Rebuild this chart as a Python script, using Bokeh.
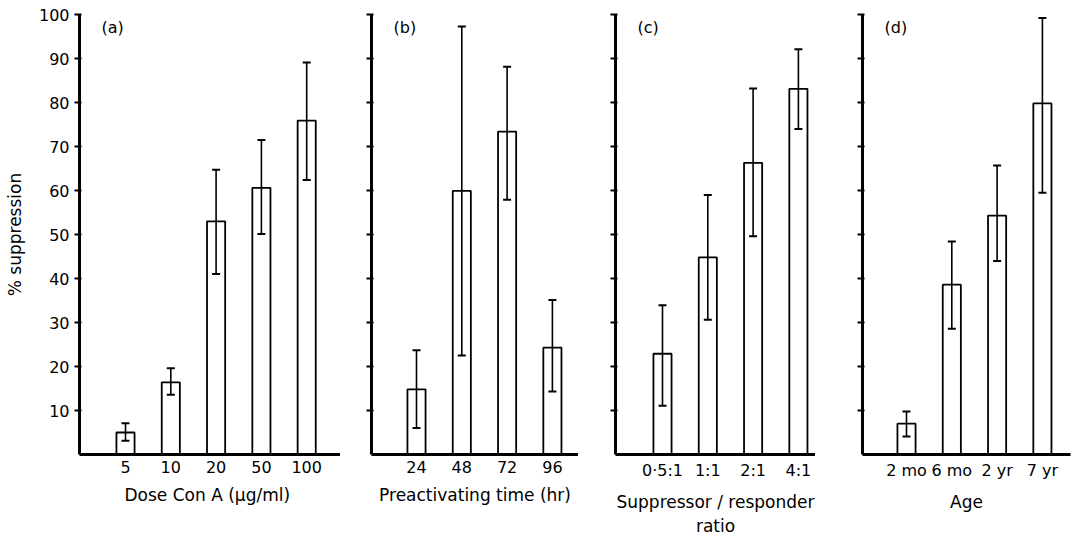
from bokeh.plotting import figure
from bokeh.layouts import row
from bokeh.models import Range1d, FixedTicker, Whisker, TeeHead, ColumnDataSource, Label
from bokeh.embed import file_html
from bokeh.resources import INLINE

# ---- data ----
dose_labels = ["5", "10", "20", "50", "100"]
dose_mean = [5.0, 16.4, 53.0, 60.6, 75.9]
dose_upper = [7.1, 19.6, 64.7, 71.5, 89.1]
dose_lower = [3.1, 13.6, 41.0, 50.1, 62.4]

time_labels = ["24", "48", "72", "96"]
time_mean = [14.8, 59.9, 73.4, 24.3]
time_upper = [23.7, 97.3, 88.1, 35.1]
time_lower = [6.0, 22.5, 57.9, 14.3]

ratio_labels = ["0·5:1", "1:1", "2:1", "4:1"]
ratio_mean = [22.9, 44.8, 66.3, 83.1]
ratio_upper = [33.9, 59.0, 83.2, 92.1]
ratio_lower = [11.1, 30.6, 49.6, 74.0]

age_labels = ["2 mo", "6 mo", "2 yr", "7 yr"]
age_mean = [7.0, 38.6, 54.3, 79.8]
age_upper = [9.8, 48.4, 65.7, 99.2]
age_lower = [4.1, 28.6, 44.0, 59.5]

y_ticks = [10, 20, 30, 40, 50, 60, 70, 80, 90, 100]

FONT = "DejaVu Sans"
STEP = 45.3  # px per category
HEIGHT = 538
TOP = 14
FRAME_H = 447


def panel(labels, mean, upper, lower, letter, xlabel, border_left, frame_w,
          first_offset, show_y, border_right=0):
    n = len(labels)
    x0 = -first_offset / STEP
    x1 = x0 + frame_w / STEP
    p = figure(width=border_left + frame_w + border_right, height=HEIGHT,
               x_range=Range1d(x0, x1), y_range=Range1d(0, 100),
               output_backend="svg", toolbar_location=None,
               min_border_left=border_left, min_border_right=border_right,
               min_border_top=TOP, min_border_bottom=HEIGHT - TOP - FRAME_H)
    p.outline_line_color = None
    p.grid.visible = False
    p.background_fill_color = "white"
    p.border_fill_color = "white"

    idx = list(range(n))
    src = ColumnDataSource(dict(x=idx, top=mean, upper=upper, lower=lower))
    p.vbar(x="x", top="top", bottom=0, width=0.4, source=src,
           fill_color="white", line_color="black", line_width=1.8)
    w = Whisker(base="x", upper="upper", lower="lower", source=src,
                line_color="black", line_width=1.6, level="overlay",
                upper_head=TeeHead(size=8, line_color="black", line_width=2),
                lower_head=TeeHead(size=8, line_color="black", line_width=2))
    p.add_layout(w)

    xa = p.xaxis[0]
    xa.ticker = FixedTicker(ticks=idx)
    xa.major_label_overrides = {i: lab for i, lab in enumerate(labels)}
    xa.major_tick_out = 0
    xa.major_tick_in = 0
    xa.minor_tick_out = 0
    xa.axis_line_width = 2.8
    xa.axis_line_color = "black"
    xa.major_label_text_font = FONT
    xa.major_label_text_font_size = "16px"
    xa.major_label_text_color = "black"
    xa.major_label_standoff = 6
    xa.axis_label = xlabel
    xa.axis_label_text_font = FONT
    xa.axis_label_text_font_size = "17px"
    xa.axis_label_text_font_style = "normal"
    xa.axis_label_text_color = "black"
    xa.axis_label_standoff = 9

    ya = p.yaxis[0]
    ya.ticker = FixedTicker(ticks=y_ticks)
    ya.major_tick_out = 5
    ya.major_tick_in = 2
    ya.minor_tick_out = 0
    ya.major_tick_line_width = 2
    ya.major_tick_line_color = "black"
    ya.axis_line_width = 3
    ya.axis_line_color = "black"
    if show_y:
        ya.major_label_text_font = FONT
        ya.major_label_text_font_size = "16px"
        ya.major_label_text_color = "black"
        ya.major_label_standoff = 5
        ya.axis_label = "% suppression"
        ya.axis_label_text_font = FONT
        ya.axis_label_text_font_size = "17px"
        ya.axis_label_text_font_style = "normal"
        ya.axis_label_text_color = "black"
        ya.axis_label_standoff = 11
    else:
        ya.major_label_text_font_size = "0px"
        ya.major_label_text_alpha = 0

    p.add_layout(Label(x=x0 + 22 / STEP, y=97, text=letter,
                       text_font=FONT, text_font_size="16px", text_color="black",
                       text_baseline="middle", text_align="left"))
    return p


pa = panel(dose_labels, dose_mean, dose_upper, dose_lower, "(a)",
           "Dose Con A  (\u03bcg/ml)", 79, 261, 46, True)
pb = panel(time_labels, time_mean, time_upper, time_lower, "(b)",
           "Preactivating time (hr)", 31, 207, 45, False)
pc = panel(ratio_labels, ratio_mean, ratio_upper, ratio_lower, "(c)",
           "Suppressor / responder\nratio", 37, 200, 47, False)
pd = panel(age_labels, age_mean, age_upper, age_lower, "(d)",
           "Age", 47, 208, 44, False, border_right=2)

layout = row(pa, pb, pc, pd, spacing=0)
open("out.html", "w").write(file_html(layout, INLINE))
